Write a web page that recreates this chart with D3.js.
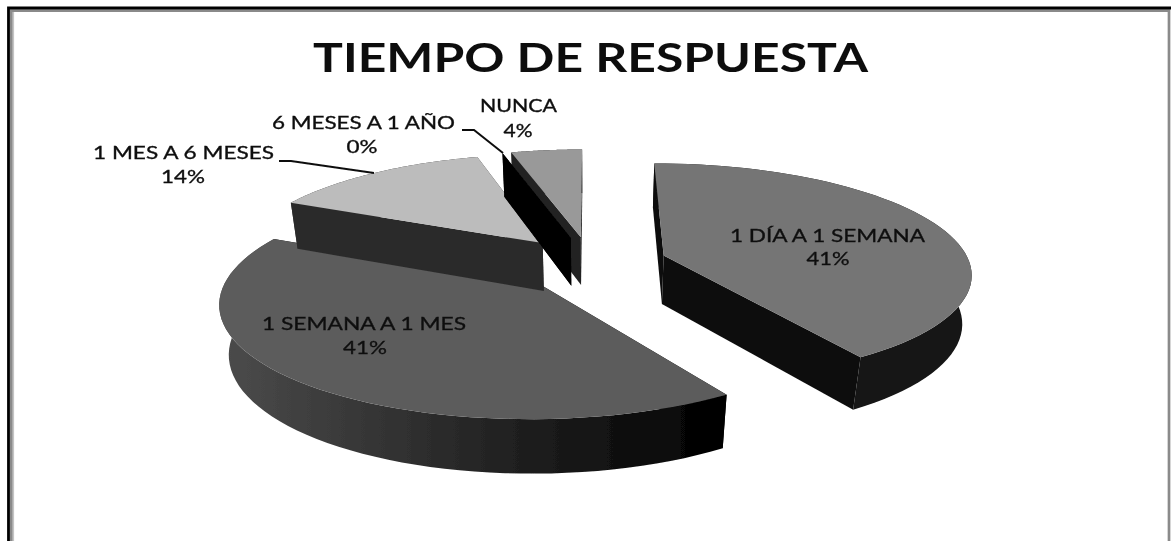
<!DOCTYPE html>
<html>
<head>
<meta charset="utf-8">
<script src="https://d3js.org/d3.v7.min.js"></script>
<style>
  html, body { margin: 0; padding: 0; background: #fff; }
  svg { display: block; }
  text { font-family: Lato, "Open Sans", sans-serif; fill: #111; }
  .label { stroke: #111; stroke-width: 0.35px; }
</style>
</head>
<body>
<div id="chart"></div>
<script>
// Chart data
var categories = ["1 DÍA A 1 SEMANA", "1 SEMANA A 1 MES", "1 MES A 6 MESES", "6 MESES A 1 AÑO", "NUNCA"];
var percents = [40.9, 40.9, 13.7, 0, 4.4];
var titleText = "TIEMPO DE RESPUESTA";

// Layout
var svgWidth = 1171;
var svgHeight = 541;

// colours per slice: top face, side face, left and right end of the rim
var topColors = ["#757575", "#5c5c5c", "#bcbcbc", "#060606", "#999999"];
var cutColors = ["#111111", "#000000", "#2b2b2b", "#060606", "#222222"];
var rimColors = [["#111111", "#141414"], ["#4c4c4c", "#000000"], ["#2b2b2b", "#2b2b2b"], ["#060606", "#060606"], ["#222222", "#222222"]];

// label boxes: x of left/right ends of the first line, baselines of both lines, x centre and width of the percent
var labelBoxes = [
    { x0: 730, x1: 925, y1: 242, y2: 265, cx: 828, w: 43 },
    { x0: 262, x1: 466, y1: 330, y2: 354, cx: 365, w: 44 },
    { x0: 93, x1: 274, y1: 159, y2: 183, cx: 183, w: 44 },
    { x0: 272, x1: 455, y1: 129, y2: 153, cx: 362, w: 31 },
    { x0: 480, x1: 557, y1: 112, y2: 137, cx: 518, w: 29 }
];
var leaderLines = [
    null, null,
    [[279, 161], [291, 161], [374, 173]],
    [[462, 130], [474, 130], [503, 153]],
    null
];

// projection of the tilted pie (unit radius world, y towards the viewer)
var cx = 591, cy = 263;
var scaleX = 306, scaleY = 108, persp = 0.15;
var explode = 0.25;
var thick = 50, thickPersp = 0.025;

function project(x, y, down) {
    var w = 1 - persp * y + (down ? thickPersp : 0);
    return [cx + scaleX * x / w, cy + (scaleY * y + (down ? thick : 0)) / w];
}

var svg = d3.select("#chart")
    .append("svg")
    .attr("width", svgWidth)
    .attr("height", svgHeight);

svg.append("rect")
    .attr("width", svgWidth)
    .attr("height", svgHeight)
    .attr("fill", "#fff");

var defs = svg.append("defs");
defs.append("filter")
    .attr("id", "soft")
    .attr("x", 0).attr("y", 0).attr("width", 1).attr("height", 1)
    .attr("filterUnits", "userSpaceOnUse")
    .attr("x", 0).attr("y", 0).attr("width", svgWidth).attr("height", svgHeight)
    .append("feGaussianBlur")
    .attr("stdDeviation", 0.45);

var root = svg.append("g").attr("filter", "url(#soft)");

// outer frame, open at the bottom: black line with a grey edge inside
root.append("path")
    .attr("d", "M13.4,541V11H1169")
    .attr("fill", "none").attr("stroke", "#c4c4c4").attr("stroke-width", 1.4);
root.append("path")
    .attr("d", "M11.3,541V10.7H1169V541")
    .attr("fill", "none").attr("stroke", "#8a8a8a").attr("stroke-width", 2.7);
root.append("path")
    .attr("d", "M8.5,541V8H1171")
    .attr("fill", "none").attr("stroke", "#000").attr("stroke-width", 2.8);

root.append("text")
    .attr("x", 313)
    .attr("y", 72)
    .attr("font-size", 40)
    .attr("font-weight", 700)
    .attr("textLength", 555)
    .attr("lengthAdjust", "spacingAndGlyphs")
    .text(titleText);

var pie = d3.pie().sort(null).startAngle(0).endAngle(2 * Math.PI);
var arcs = pie(percents);
var line = d3.line();

// slices are painted in this order so the faces cover each other like the original
var paintOrder = [1, 0, 2, 4, 3];

paintOrder.forEach(function (i) {
    var a = arcs[i];
    var mid = (a.startAngle + a.endAngle) / 2;
    var ox = explode * Math.sin(mid);
    var oy = -explode * Math.cos(mid);
    var g = root.append("g");

    function rim(angle, down) {
        return project(ox + Math.sin(angle), oy - Math.cos(angle), down);
    }
    var apexTop = project(ox, oy, false);
    var apexBottom = project(ox, oy, true);
    var angles = d3.range(0, 61).map(function (k) {
        return a.startAngle + (a.endAngle - a.startAngle) * k / 60;
    });
    var topRim = angles.map(function (t) { return rim(t, false); });
    var bottomRim = angles.map(function (t) { return rim(t, true); });

    // the two cut faces go first, the rim covers the one that faces away
    var endCut = [apexTop, rim(a.endAngle, false), rim(a.endAngle, true), apexBottom];
    var startCut = [apexTop, rim(a.startAngle, false), rim(a.startAngle, true), apexBottom];
    g.append("path").attr("d", line(endCut) + "Z").attr("fill", cutColors[i]);
    g.append("path").attr("d", line(startCut) + "Z").attr("fill", cutColors[i]);

    // rim wall with a horizontal shading
    var gradId = "rim" + i;
    var xs = topRim.map(function (p) { return p[0]; });
    var grad = defs.append("linearGradient")
        .attr("id", gradId)
        .attr("gradientUnits", "userSpaceOnUse")
        .attr("x1", d3.min(xs)).attr("x2", d3.max(xs))
        .attr("y1", 0).attr("y2", 0);
    grad.append("stop").attr("offset", 0).attr("stop-color", rimColors[i][0]);
    grad.append("stop").attr("offset", 1).attr("stop-color", rimColors[i][1]);

    if (a.endAngle > a.startAngle) {
        g.append("path")
            .attr("d", line(topRim.concat(bottomRim.slice().reverse())) + "Z")
            .attr("fill", "url(#" + gradId + ")");

        // top face
        g.append("path")
            .attr("d", line([apexTop].concat(topRim)) + "Z")
            .attr("fill", topColors[i]);
    }
});

// leader lines
leaderLines.forEach(function (pts) {
    if (!pts) return;
    root.append("path")
        .attr("d", line(pts))
        .attr("fill", "none")
        .attr("stroke", "#111")
        .attr("stroke-width", 2);
});

// data labels
categories.forEach(function (name, i) {
    var b = labelBoxes[i];
    root.append("text")
        .attr("class", "label")
        .attr("x", b.x0)
        .attr("y", b.y1)
        .attr("font-size", 18)
        .attr("textLength", b.x1 - b.x0)
        .attr("lengthAdjust", "spacingAndGlyphs")
        .text(name);
    root.append("text")
        .attr("class", "label")
        .attr("x", b.cx - b.w / 2)
        .attr("y", b.y2)
        .attr("font-size", 18)
        .attr("textLength", b.w)
        .attr("lengthAdjust", "spacingAndGlyphs")
        .text(Math.round(percents[i]) + "%");
});
</script>
</body>
</html>
